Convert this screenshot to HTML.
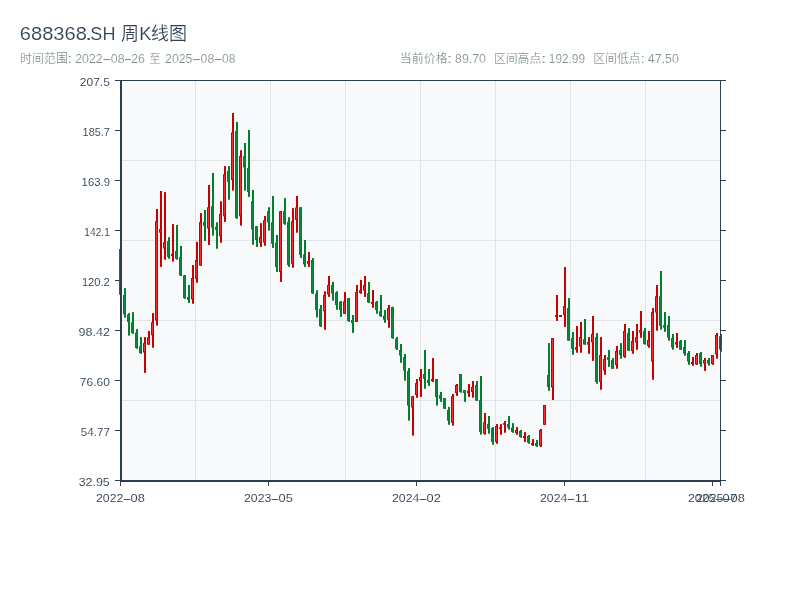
<!DOCTYPE html>
<html lang="zh-CN">
<head>
<meta charset="utf-8">
<title>688368.SH 周K线图</title>
<style>
html,body{margin:0;padding:0;background:#ffffff;}
body{width:800px;height:600px;overflow:hidden;font-family:"Liberation Sans","Noto Sans CJK SC",sans-serif;}
svg{display:block;}
</style>
</head>
<body>
<svg width="800" height="600" viewBox="0 0 800 600">
<rect x="0" y="0" width="800" height="600" fill="#ffffff"/>
<rect x="121" y="81" width="600" height="400" fill="#f8f9fa"/>
<g shape-rendering="crispEdges"><rect x="195" y="81" width="1" height="399" fill="#e1e4e8"/><rect x="270" y="81" width="1" height="399" fill="#e1e4e8"/><rect x="345" y="81" width="1" height="399" fill="#e1e4e8"/><rect x="420" y="81" width="1" height="399" fill="#e1e4e8"/><rect x="495" y="81" width="1" height="399" fill="#e1e4e8"/><rect x="570" y="81" width="1" height="399" fill="#e1e4e8"/><rect x="645" y="81" width="1" height="399" fill="#e1e4e8"/><rect x="122" y="160" width="598" height="1" fill="#e1e4e8"/><rect x="122" y="240" width="598" height="1" fill="#e1e4e8"/><rect x="122" y="320" width="598" height="1" fill="#e1e4e8"/><rect x="122" y="400" width="598" height="1" fill="#e1e4e8"/></g>
<defs><clipPath id="cp"><rect x="119" y="80" width="603" height="402"/></clipPath></defs>
<g clip-path="url(#cp)">
<rect x="120" y="249" width="2" height="45.75" fill="#007f2c"/>
<rect x="119" y="249" width="3" height="45.75" fill="#007f2c"/>
<rect x="120" y="250" width="1" height="43.75" fill="#058a35"/>
<rect x="124" y="288.1" width="2" height="29.65" fill="#007f2c"/>
<rect x="123" y="295" width="3" height="19.4" fill="#007f2c"/>
<rect x="124" y="296" width="1" height="17.4" fill="#058a35"/>
<rect x="128" y="313.1" width="2" height="22.5" fill="#007f2c"/>
<rect x="127" y="314.4" width="3" height="7.5" fill="#007f2c"/>
<rect x="128" y="315.4" width="1" height="5.5" fill="#058a35"/>
<rect x="132" y="312.1" width="2" height="21.65" fill="#007f2c"/>
<rect x="131" y="322.25" width="3" height="10.85" fill="#007f2c"/>
<rect x="132" y="323.25" width="1" height="8.85" fill="#058a35"/>
<rect x="136" y="329.1" width="2" height="19.65" fill="#007f2c"/>
<rect x="135" y="332.5" width="3" height="15.6" fill="#007f2c"/>
<rect x="136" y="333.5" width="1" height="13.6" fill="#058a35"/>
<rect x="140" y="337.1" width="2" height="16.65" fill="#007f2c"/>
<rect x="139" y="346.25" width="3" height="6.85" fill="#007f2c"/>
<rect x="140" y="347.25" width="1" height="4.85" fill="#058a35"/>
<rect x="144" y="337.1" width="2" height="35.8" fill="#c80000"/>
<rect x="143" y="343.1" width="3" height="9.4" fill="#c80000"/>
<rect x="144" y="344.1" width="1" height="7.4" fill="#ff2a2a"/>
<rect x="148" y="331" width="2" height="13.6" fill="#c80000"/>
<rect x="147" y="337.25" width="3" height="7.35" fill="#c80000"/>
<rect x="148" y="338.25" width="1" height="5.35" fill="#ff2a2a"/>
<rect x="152" y="313.1" width="2" height="34.65" fill="#c80000"/>
<rect x="151" y="322.25" width="3" height="13" fill="#c80000"/>
<rect x="152" y="323.25" width="1" height="11" fill="#ff2a2a"/>
<rect x="156" y="209" width="2" height="116.6" fill="#c80000"/>
<rect x="155" y="221.25" width="3" height="99.35" fill="#c80000"/>
<rect x="156" y="222.25" width="1" height="97.35" fill="#ff2a2a"/>
<rect x="160" y="191" width="2" height="75.9" fill="#c80000"/>
<rect x="159" y="229" width="3" height="3.75" fill="#c80000"/>
<rect x="160" y="230" width="1" height="1.75" fill="#ff2a2a"/>
<rect x="164" y="192.1" width="2" height="67.65" fill="#c80000"/>
<rect x="163" y="242.25" width="3" height="6.25" fill="#c80000"/>
<rect x="164" y="243.25" width="1" height="4.25" fill="#ff2a2a"/>
<rect x="168" y="237.25" width="2" height="21.5" fill="#007f2c"/>
<rect x="167" y="241" width="3" height="15.9" fill="#007f2c"/>
<rect x="168" y="242" width="1" height="13.9" fill="#058a35"/>
<rect x="172" y="224.1" width="2" height="37.5" fill="#c80000"/>
<rect x="171" y="254.1" width="3" height="1.9" fill="#c80000"/>
<rect x="176" y="225" width="2" height="34.75" fill="#007f2c"/>
<rect x="175" y="251" width="3" height="7.75" fill="#007f2c"/>
<rect x="176" y="252" width="1" height="5.75" fill="#058a35"/>
<rect x="180" y="246" width="2" height="30" fill="#007f2c"/>
<rect x="179" y="256.9" width="3" height="18.5" fill="#007f2c"/>
<rect x="180" y="257.9" width="1" height="16.5" fill="#058a35"/>
<rect x="184" y="275" width="2" height="23.75" fill="#007f2c"/>
<rect x="183" y="275.25" width="3" height="22.85" fill="#007f2c"/>
<rect x="184" y="276.25" width="1" height="20.85" fill="#058a35"/>
<rect x="188" y="285" width="2" height="17.9" fill="#007f2c"/>
<rect x="187" y="296.9" width="3" height="3.1" fill="#007f2c"/>
<rect x="188" y="297.9" width="1" height="1.1" fill="#058a35"/>
<rect x="192" y="265" width="2" height="38.75" fill="#c80000"/>
<rect x="191" y="278.1" width="3" height="21.3" fill="#c80000"/>
<rect x="192" y="279.1" width="1" height="19.3" fill="#ff2a2a"/>
<rect x="196" y="241.9" width="2" height="40.85" fill="#c80000"/>
<rect x="195" y="260" width="3" height="18.75" fill="#c80000"/>
<rect x="196" y="261" width="1" height="16.75" fill="#ff2a2a"/>
<rect x="200" y="213.1" width="2" height="52.5" fill="#c80000"/>
<rect x="199" y="222.1" width="3" height="43.5" fill="#c80000"/>
<rect x="200" y="223.1" width="1" height="41.5" fill="#ff2a2a"/>
<rect x="204" y="210" width="2" height="30.9" fill="#007f2c"/>
<rect x="203" y="222.1" width="3" height="3.5" fill="#007f2c"/>
<rect x="204" y="223.1" width="1" height="1.5" fill="#058a35"/>
<rect x="208" y="185" width="2" height="60" fill="#c80000"/>
<rect x="207" y="207.25" width="3" height="21.25" fill="#c80000"/>
<rect x="208" y="208.25" width="1" height="19.25" fill="#ff2a2a"/>
<rect x="212" y="173" width="2" height="62.6" fill="#007f2c"/>
<rect x="211" y="206.25" width="3" height="21.25" fill="#007f2c"/>
<rect x="212" y="207.25" width="1" height="19.25" fill="#058a35"/>
<rect x="216" y="222.25" width="2" height="26.5" fill="#007f2c"/>
<rect x="215" y="226.9" width="3" height="3.1" fill="#007f2c"/>
<rect x="216" y="227.9" width="1" height="1.1" fill="#058a35"/>
<rect x="220" y="201.25" width="2" height="41.5" fill="#c80000"/>
<rect x="219" y="214" width="3" height="22.25" fill="#c80000"/>
<rect x="220" y="215" width="1" height="20.25" fill="#ff2a2a"/>
<rect x="224" y="166.1" width="2" height="55.8" fill="#c80000"/>
<rect x="223" y="174.25" width="3" height="42" fill="#c80000"/>
<rect x="224" y="175.25" width="1" height="40" fill="#ff2a2a"/>
<rect x="228" y="166.1" width="2" height="33.65" fill="#007f2c"/>
<rect x="227" y="171.1" width="3" height="10.8" fill="#007f2c"/>
<rect x="228" y="172.1" width="1" height="8.8" fill="#058a35"/>
<rect x="232" y="113" width="2" height="77.6" fill="#c80000"/>
<rect x="231" y="132.4" width="3" height="47.6" fill="#c80000"/>
<rect x="232" y="133.4" width="1" height="45.6" fill="#ff2a2a"/>
<rect x="236" y="122" width="2" height="96.75" fill="#007f2c"/>
<rect x="235" y="131.1" width="3" height="87" fill="#007f2c"/>
<rect x="236" y="132.1" width="1" height="85" fill="#058a35"/>
<rect x="240" y="150.25" width="2" height="75.35" fill="#c80000"/>
<rect x="239" y="156.1" width="3" height="60.15" fill="#c80000"/>
<rect x="240" y="157.1" width="1" height="58.15" fill="#ff2a2a"/>
<rect x="244" y="143" width="2" height="47.6" fill="#007f2c"/>
<rect x="243" y="156.1" width="3" height="11.3" fill="#007f2c"/>
<rect x="244" y="157.1" width="1" height="9.3" fill="#058a35"/>
<rect x="248" y="129.9" width="2" height="67" fill="#007f2c"/>
<rect x="247" y="168" width="3" height="23.9" fill="#007f2c"/>
<rect x="248" y="169" width="1" height="21.9" fill="#058a35"/>
<rect x="252" y="190" width="2" height="54.75" fill="#007f2c"/>
<rect x="251" y="201.25" width="3" height="28.15" fill="#007f2c"/>
<rect x="252" y="202.25" width="1" height="26.15" fill="#058a35"/>
<rect x="256" y="226" width="2" height="20.9" fill="#007f2c"/>
<rect x="255" y="226.25" width="3" height="13.75" fill="#007f2c"/>
<rect x="256" y="227.25" width="1" height="11.75" fill="#058a35"/>
<rect x="260" y="223.1" width="2" height="23.8" fill="#c80000"/>
<rect x="259" y="236.9" width="3" height="6.2" fill="#c80000"/>
<rect x="260" y="237.9" width="1" height="4.2" fill="#ff2a2a"/>
<rect x="264" y="216" width="2" height="29.75" fill="#c80000"/>
<rect x="263" y="220.25" width="3" height="22.25" fill="#c80000"/>
<rect x="264" y="221.25" width="1" height="20.25" fill="#ff2a2a"/>
<rect x="268" y="207.25" width="2" height="23.35" fill="#007f2c"/>
<rect x="267" y="211.25" width="3" height="11.25" fill="#007f2c"/>
<rect x="268" y="212.25" width="1" height="9.25" fill="#058a35"/>
<rect x="272" y="196" width="2" height="51.9" fill="#007f2c"/>
<rect x="271" y="222.25" width="3" height="21.5" fill="#007f2c"/>
<rect x="272" y="223.25" width="1" height="19.5" fill="#058a35"/>
<rect x="276" y="235" width="2" height="36.9" fill="#007f2c"/>
<rect x="275" y="242.5" width="3" height="24.4" fill="#007f2c"/>
<rect x="276" y="243.5" width="1" height="22.4" fill="#058a35"/>
<rect x="280" y="211" width="2" height="70.9" fill="#c80000"/>
<rect x="279" y="211.25" width="3" height="60.65" fill="#c80000"/>
<rect x="280" y="212.25" width="1" height="58.65" fill="#ff2a2a"/>
<rect x="284" y="198.1" width="2" height="26.65" fill="#007f2c"/>
<rect x="283" y="211.25" width="3" height="12.5" fill="#007f2c"/>
<rect x="284" y="212.25" width="1" height="10.5" fill="#058a35"/>
<rect x="288" y="217.25" width="2" height="49.65" fill="#007f2c"/>
<rect x="287" y="221.9" width="3" height="43.1" fill="#007f2c"/>
<rect x="288" y="222.9" width="1" height="41.1" fill="#058a35"/>
<rect x="292" y="208.1" width="2" height="59.65" fill="#c80000"/>
<rect x="291" y="221.25" width="3" height="42.5" fill="#c80000"/>
<rect x="292" y="222.25" width="1" height="40.5" fill="#ff2a2a"/>
<rect x="296" y="196" width="2" height="36.75" fill="#c80000"/>
<rect x="295" y="207.5" width="3" height="12.5" fill="#c80000"/>
<rect x="296" y="208.5" width="1" height="10.5" fill="#ff2a2a"/>
<rect x="300" y="207.25" width="2" height="50.65" fill="#007f2c"/>
<rect x="299" y="207.25" width="3" height="47.75" fill="#007f2c"/>
<rect x="300" y="208.25" width="1" height="45.75" fill="#058a35"/>
<rect x="304" y="240" width="2" height="26.9" fill="#007f2c"/>
<rect x="303" y="254.4" width="3" height="10" fill="#007f2c"/>
<rect x="304" y="255.4" width="1" height="8" fill="#058a35"/>
<rect x="308" y="252.1" width="2" height="14.8" fill="#c80000"/>
<rect x="307" y="261" width="3" height="2.75" fill="#c80000"/>
<rect x="308" y="262" width="1" height="0.75" fill="#ff2a2a"/>
<rect x="312" y="258.1" width="2" height="35.65" fill="#007f2c"/>
<rect x="311" y="260" width="3" height="33.5" fill="#007f2c"/>
<rect x="312" y="261" width="1" height="31.5" fill="#058a35"/>
<rect x="316" y="290.25" width="2" height="27.25" fill="#007f2c"/>
<rect x="315" y="293.75" width="3" height="16.25" fill="#007f2c"/>
<rect x="316" y="294.75" width="1" height="14.25" fill="#058a35"/>
<rect x="320" y="305" width="2" height="21.9" fill="#007f2c"/>
<rect x="319" y="308.75" width="3" height="17.5" fill="#007f2c"/>
<rect x="320" y="309.75" width="1" height="15.5" fill="#058a35"/>
<rect x="324" y="291.25" width="2" height="38.5" fill="#c80000"/>
<rect x="323" y="295" width="3" height="16.25" fill="#c80000"/>
<rect x="324" y="296" width="1" height="14.25" fill="#ff2a2a"/>
<rect x="328" y="276" width="2" height="20.9" fill="#c80000"/>
<rect x="327" y="285" width="3" height="9.4" fill="#c80000"/>
<rect x="328" y="286" width="1" height="7.4" fill="#ff2a2a"/>
<rect x="332" y="281.9" width="2" height="18.7" fill="#007f2c"/>
<rect x="331" y="285" width="3" height="8.5" fill="#007f2c"/>
<rect x="332" y="286" width="1" height="6.5" fill="#058a35"/>
<rect x="336" y="291.25" width="2" height="18.5" fill="#007f2c"/>
<rect x="335" y="292.5" width="3" height="12.5" fill="#007f2c"/>
<rect x="336" y="293.5" width="1" height="10.5" fill="#058a35"/>
<rect x="340" y="301" width="2" height="15.9" fill="#007f2c"/>
<rect x="339" y="301.9" width="3" height="8.1" fill="#007f2c"/>
<rect x="340" y="302.9" width="1" height="6.1" fill="#058a35"/>
<rect x="344" y="292.1" width="2" height="21.65" fill="#c80000"/>
<rect x="343" y="301.25" width="3" height="12.5" fill="#c80000"/>
<rect x="344" y="302.25" width="1" height="10.5" fill="#ff2a2a"/>
<rect x="348" y="298.1" width="2" height="23.8" fill="#007f2c"/>
<rect x="347" y="298.1" width="3" height="22.8" fill="#007f2c"/>
<rect x="348" y="299.1" width="1" height="20.8" fill="#058a35"/>
<rect x="352" y="315" width="2" height="17.9" fill="#007f2c"/>
<rect x="351" y="320" width="3" height="3.1" fill="#007f2c"/>
<rect x="352" y="321" width="1" height="1.1" fill="#058a35"/>
<rect x="356" y="285" width="2" height="36.9" fill="#c80000"/>
<rect x="355" y="292.1" width="3" height="29.8" fill="#c80000"/>
<rect x="356" y="293.1" width="1" height="27.8" fill="#ff2a2a"/>
<rect x="360" y="280" width="2" height="13.75" fill="#c80000"/>
<rect x="359" y="290.25" width="3" height="2.85" fill="#c80000"/>
<rect x="360" y="291.25" width="1" height="0.85" fill="#ff2a2a"/>
<rect x="364" y="276" width="2" height="20.9" fill="#c80000"/>
<rect x="363" y="285" width="3" height="5.6" fill="#c80000"/>
<rect x="364" y="286" width="1" height="3.6" fill="#ff2a2a"/>
<rect x="368" y="281.9" width="2" height="21" fill="#007f2c"/>
<rect x="367" y="293.1" width="3" height="9.4" fill="#007f2c"/>
<rect x="368" y="294.1" width="1" height="7.4" fill="#058a35"/>
<rect x="372" y="290" width="2" height="17.75" fill="#c80000"/>
<rect x="371" y="301.9" width="3" height="1.85" fill="#c80000"/>
<rect x="376" y="301" width="2" height="12.75" fill="#007f2c"/>
<rect x="375" y="301.9" width="3" height="8.1" fill="#007f2c"/>
<rect x="376" y="302.9" width="1" height="6.1" fill="#058a35"/>
<rect x="380" y="295" width="2" height="21.9" fill="#007f2c"/>
<rect x="379" y="311.25" width="3" height="4.65" fill="#007f2c"/>
<rect x="380" y="312.25" width="1" height="2.65" fill="#058a35"/>
<rect x="384" y="310" width="2" height="12.75" fill="#007f2c"/>
<rect x="383" y="315.6" width="3" height="4.15" fill="#007f2c"/>
<rect x="384" y="316.6" width="1" height="2.15" fill="#058a35"/>
<rect x="388" y="305" width="2" height="22.75" fill="#c80000"/>
<rect x="387" y="308.1" width="3" height="11.65" fill="#c80000"/>
<rect x="388" y="309.1" width="1" height="9.65" fill="#ff2a2a"/>
<rect x="392" y="306.9" width="2" height="31.85" fill="#007f2c"/>
<rect x="391" y="306.9" width="3" height="31.2" fill="#007f2c"/>
<rect x="392" y="307.9" width="1" height="29.2" fill="#058a35"/>
<rect x="396" y="336.9" width="2" height="13.1" fill="#007f2c"/>
<rect x="395" y="338.75" width="3" height="10" fill="#007f2c"/>
<rect x="396" y="339.75" width="1" height="8" fill="#058a35"/>
<rect x="400" y="344" width="2" height="18.8" fill="#007f2c"/>
<rect x="399" y="350" width="3" height="5.6" fill="#007f2c"/>
<rect x="400" y="351" width="1" height="3.6" fill="#058a35"/>
<rect x="404" y="354" width="2" height="26.6" fill="#007f2c"/>
<rect x="403" y="357" width="3" height="13.6" fill="#007f2c"/>
<rect x="404" y="358" width="1" height="11.6" fill="#058a35"/>
<rect x="408" y="368.1" width="2" height="52.5" fill="#007f2c"/>
<rect x="407" y="371" width="3" height="34.6" fill="#007f2c"/>
<rect x="408" y="372" width="1" height="32.6" fill="#058a35"/>
<rect x="412" y="396.25" width="2" height="39.35" fill="#c80000"/>
<rect x="411" y="396.25" width="3" height="11.25" fill="#c80000"/>
<rect x="412" y="397.25" width="1" height="9.25" fill="#ff2a2a"/>
<rect x="416" y="379" width="2" height="18.75" fill="#c80000"/>
<rect x="415" y="383.1" width="3" height="11.9" fill="#c80000"/>
<rect x="416" y="384.1" width="1" height="9.9" fill="#ff2a2a"/>
<rect x="420" y="369" width="2" height="27.9" fill="#c80000"/>
<rect x="419" y="377.1" width="3" height="4.15" fill="#c80000"/>
<rect x="420" y="378.1" width="1" height="2.15" fill="#ff2a2a"/>
<rect x="424" y="350" width="2" height="38.75" fill="#007f2c"/>
<rect x="423" y="374" width="3" height="4.75" fill="#007f2c"/>
<rect x="424" y="375" width="1" height="2.75" fill="#058a35"/>
<rect x="428" y="369" width="2" height="16.9" fill="#007f2c"/>
<rect x="427" y="380" width="3" height="3.1" fill="#007f2c"/>
<rect x="428" y="381" width="1" height="1.1" fill="#058a35"/>
<rect x="432" y="358.1" width="2" height="23.8" fill="#c80000"/>
<rect x="431" y="379" width="3" height="2.25" fill="#c80000"/>
<rect x="432" y="380" width="1" height="0.25" fill="#ff2a2a"/>
<rect x="436" y="379" width="2" height="26.6" fill="#007f2c"/>
<rect x="435" y="379" width="3" height="17.9" fill="#007f2c"/>
<rect x="436" y="380" width="1" height="15.9" fill="#058a35"/>
<rect x="440" y="391.9" width="2" height="10" fill="#007f2c"/>
<rect x="439" y="395" width="3" height="3.75" fill="#007f2c"/>
<rect x="440" y="396" width="1" height="1.75" fill="#058a35"/>
<rect x="444" y="398.1" width="2" height="10.65" fill="#007f2c"/>
<rect x="443" y="398.1" width="3" height="10.65" fill="#007f2c"/>
<rect x="444" y="399.1" width="1" height="8.65" fill="#058a35"/>
<rect x="448" y="406.9" width="2" height="17.85" fill="#007f2c"/>
<rect x="447" y="410" width="3" height="10.6" fill="#007f2c"/>
<rect x="448" y="411" width="1" height="8.6" fill="#058a35"/>
<rect x="452" y="394" width="2" height="31.6" fill="#c80000"/>
<rect x="451" y="396.1" width="3" height="26.65" fill="#c80000"/>
<rect x="452" y="397.1" width="1" height="24.65" fill="#ff2a2a"/>
<rect x="456" y="384" width="2" height="11.9" fill="#c80000"/>
<rect x="455" y="385" width="3" height="8.1" fill="#c80000"/>
<rect x="456" y="386" width="1" height="6.1" fill="#ff2a2a"/>
<rect x="460" y="374" width="2" height="18.75" fill="#007f2c"/>
<rect x="459" y="374" width="3" height="17.9" fill="#007f2c"/>
<rect x="460" y="375" width="1" height="15.9" fill="#058a35"/>
<rect x="464" y="390" width="2" height="11.9" fill="#007f2c"/>
<rect x="463" y="390" width="3" height="3.1" fill="#007f2c"/>
<rect x="464" y="391" width="1" height="1.1" fill="#058a35"/>
<rect x="468" y="384" width="2" height="12.9" fill="#c80000"/>
<rect x="467" y="390.6" width="3" height="2.5" fill="#c80000"/>
<rect x="468" y="391.6" width="1" height="0.5" fill="#ff2a2a"/>
<rect x="472" y="381" width="2" height="16.75" fill="#c80000"/>
<rect x="471" y="386.9" width="3" height="5" fill="#c80000"/>
<rect x="472" y="387.9" width="1" height="3" fill="#ff2a2a"/>
<rect x="476" y="381" width="2" height="19.9" fill="#007f2c"/>
<rect x="475" y="385" width="3" height="15.6" fill="#007f2c"/>
<rect x="476" y="386" width="1" height="13.6" fill="#058a35"/>
<rect x="480" y="376" width="2" height="58.6" fill="#007f2c"/>
<rect x="479" y="400" width="3" height="31.9" fill="#007f2c"/>
<rect x="480" y="401" width="1" height="29.9" fill="#058a35"/>
<rect x="484" y="413" width="2" height="21.6" fill="#c80000"/>
<rect x="483" y="422.25" width="3" height="11.5" fill="#c80000"/>
<rect x="484" y="423.25" width="1" height="9.5" fill="#ff2a2a"/>
<rect x="488" y="416" width="2" height="17.75" fill="#007f2c"/>
<rect x="487" y="424" width="3" height="4.75" fill="#007f2c"/>
<rect x="488" y="425" width="1" height="2.75" fill="#058a35"/>
<rect x="492" y="427.1" width="2" height="17.65" fill="#007f2c"/>
<rect x="491" y="428.1" width="3" height="13.8" fill="#007f2c"/>
<rect x="492" y="429.1" width="1" height="11.8" fill="#058a35"/>
<rect x="496" y="424.1" width="2" height="19.65" fill="#c80000"/>
<rect x="495" y="426" width="3" height="15.9" fill="#c80000"/>
<rect x="496" y="427" width="1" height="13.9" fill="#ff2a2a"/>
<rect x="500" y="424.1" width="2" height="10.65" fill="#c80000"/>
<rect x="499" y="427.25" width="3" height="1.75" fill="#c80000"/>
<rect x="504" y="421" width="2" height="11.75" fill="#c80000"/>
<rect x="503" y="423.1" width="3" height="1.65" fill="#c80000"/>
<rect x="508" y="416" width="2" height="13.6" fill="#007f2c"/>
<rect x="507" y="424.1" width="3" height="3.4" fill="#007f2c"/>
<rect x="508" y="425.1" width="1" height="1.4" fill="#058a35"/>
<rect x="512" y="423.1" width="2" height="9.65" fill="#007f2c"/>
<rect x="511" y="427.5" width="3" height="4.4" fill="#007f2c"/>
<rect x="512" y="428.5" width="1" height="2.4" fill="#058a35"/>
<rect x="516" y="427.1" width="2" height="7.65" fill="#c80000"/>
<rect x="515" y="430" width="3" height="3.1" fill="#c80000"/>
<rect x="516" y="431" width="1" height="1.1" fill="#ff2a2a"/>
<rect x="520" y="430" width="2" height="7.75" fill="#007f2c"/>
<rect x="519" y="431" width="3" height="5.9" fill="#007f2c"/>
<rect x="520" y="432" width="1" height="3.9" fill="#058a35"/>
<rect x="524" y="432.1" width="2" height="9.8" fill="#c80000"/>
<rect x="523" y="436" width="3" height="2.1" fill="#c80000"/>
<rect x="528" y="435" width="2" height="8.75" fill="#007f2c"/>
<rect x="527" y="436" width="3" height="6.75" fill="#007f2c"/>
<rect x="528" y="437" width="1" height="4.75" fill="#058a35"/>
<rect x="532" y="439.1" width="2" height="6.8" fill="#c80000"/>
<rect x="531" y="443.1" width="3" height="1.9" fill="#c80000"/>
<rect x="536" y="440" width="2" height="6.9" fill="#007f2c"/>
<rect x="535" y="443.1" width="3" height="2.8" fill="#007f2c"/>
<rect x="536" y="444.1" width="1" height="0.8" fill="#058a35"/>
<rect x="540" y="429" width="2" height="17.9" fill="#c80000"/>
<rect x="539" y="430" width="3" height="15.9" fill="#c80000"/>
<rect x="540" y="431" width="1" height="13.9" fill="#ff2a2a"/>
<rect x="544" y="405" width="2" height="19.75" fill="#c80000"/>
<rect x="543" y="405" width="3" height="19.75" fill="#c80000"/>
<rect x="544" y="406" width="1" height="17.75" fill="#ff2a2a"/>
<rect x="548" y="343.1" width="2" height="47.7" fill="#007f2c"/>
<rect x="547" y="375" width="3" height="11.9" fill="#007f2c"/>
<rect x="548" y="376" width="1" height="9.9" fill="#058a35"/>
<rect x="552" y="338.1" width="2" height="61.9" fill="#c80000"/>
<rect x="551" y="338.1" width="3" height="49.4" fill="#c80000"/>
<rect x="552" y="339.1" width="1" height="47.4" fill="#ff2a2a"/>
<rect x="556" y="295" width="2" height="25.9" fill="#c80000"/>
<rect x="555" y="315" width="3" height="1.9" fill="#c80000"/>
<rect x="560" y="315" width="2" height="1.9" fill="#c80000"/>
<rect x="559" y="315" width="3" height="1.9" fill="#c80000"/>
<rect x="564" y="267.1" width="2" height="59.8" fill="#c80000"/>
<rect x="563" y="306" width="3" height="9" fill="#c80000"/>
<rect x="564" y="307" width="1" height="7" fill="#ff2a2a"/>
<rect x="568" y="298.1" width="2" height="42.5" fill="#007f2c"/>
<rect x="567" y="308.1" width="3" height="32.5" fill="#007f2c"/>
<rect x="568" y="309.1" width="1" height="30.5" fill="#058a35"/>
<rect x="572" y="332" width="2" height="22.75" fill="#007f2c"/>
<rect x="571" y="338.1" width="3" height="10.65" fill="#007f2c"/>
<rect x="572" y="339.1" width="1" height="8.65" fill="#058a35"/>
<rect x="576" y="326" width="2" height="26.75" fill="#c80000"/>
<rect x="575" y="347.25" width="3" height="2.5" fill="#c80000"/>
<rect x="576" y="348.25" width="1" height="0.5" fill="#ff2a2a"/>
<rect x="580" y="322" width="2" height="30.75" fill="#c80000"/>
<rect x="579" y="337.1" width="3" height="9.4" fill="#c80000"/>
<rect x="580" y="338.1" width="1" height="7.4" fill="#ff2a2a"/>
<rect x="584" y="319" width="2" height="25.6" fill="#007f2c"/>
<rect x="583" y="339.1" width="3" height="5.5" fill="#007f2c"/>
<rect x="584" y="340.1" width="1" height="3.5" fill="#058a35"/>
<rect x="588" y="337.1" width="2" height="16.65" fill="#c80000"/>
<rect x="587" y="342.1" width="3" height="2.5" fill="#c80000"/>
<rect x="588" y="343.1" width="1" height="0.5" fill="#ff2a2a"/>
<rect x="592" y="316" width="2" height="44.9" fill="#c80000"/>
<rect x="591" y="334" width="3" height="8.5" fill="#c80000"/>
<rect x="592" y="335" width="1" height="6.5" fill="#ff2a2a"/>
<rect x="596" y="333.1" width="2" height="50.65" fill="#007f2c"/>
<rect x="595" y="337.1" width="3" height="44.8" fill="#007f2c"/>
<rect x="596" y="338.1" width="1" height="42.8" fill="#058a35"/>
<rect x="600" y="337.1" width="2" height="52.65" fill="#c80000"/>
<rect x="599" y="355" width="3" height="26.9" fill="#c80000"/>
<rect x="600" y="356" width="1" height="24.9" fill="#ff2a2a"/>
<rect x="604" y="355" width="2" height="19.75" fill="#c80000"/>
<rect x="603" y="359" width="3" height="11.6" fill="#c80000"/>
<rect x="604" y="360" width="1" height="9.6" fill="#ff2a2a"/>
<rect x="608" y="350" width="2" height="16.9" fill="#007f2c"/>
<rect x="607" y="357.1" width="3" height="2.65" fill="#007f2c"/>
<rect x="608" y="358.1" width="1" height="0.65" fill="#058a35"/>
<rect x="612" y="358.1" width="2" height="10.65" fill="#007f2c"/>
<rect x="611" y="360" width="3" height="8.75" fill="#007f2c"/>
<rect x="612" y="361" width="1" height="6.75" fill="#058a35"/>
<rect x="616" y="346" width="2" height="22.75" fill="#c80000"/>
<rect x="615" y="351" width="3" height="14" fill="#c80000"/>
<rect x="616" y="352" width="1" height="12" fill="#ff2a2a"/>
<rect x="620" y="343.1" width="2" height="15.65" fill="#007f2c"/>
<rect x="619" y="350" width="3" height="5" fill="#007f2c"/>
<rect x="620" y="351" width="1" height="3" fill="#058a35"/>
<rect x="624" y="324" width="2" height="33.75" fill="#c80000"/>
<rect x="623" y="331" width="3" height="25.9" fill="#c80000"/>
<rect x="624" y="332" width="1" height="23.9" fill="#ff2a2a"/>
<rect x="628" y="328.1" width="2" height="22.5" fill="#007f2c"/>
<rect x="627" y="333.1" width="3" height="17.5" fill="#007f2c"/>
<rect x="628" y="334.1" width="1" height="15.5" fill="#058a35"/>
<rect x="632" y="331" width="2" height="22.75" fill="#c80000"/>
<rect x="631" y="341" width="3" height="10" fill="#c80000"/>
<rect x="632" y="342" width="1" height="8" fill="#ff2a2a"/>
<rect x="636" y="324" width="2" height="25.75" fill="#c80000"/>
<rect x="635" y="337.1" width="3" height="5.4" fill="#c80000"/>
<rect x="636" y="338.1" width="1" height="3.4" fill="#ff2a2a"/>
<rect x="640" y="311" width="2" height="26.75" fill="#c80000"/>
<rect x="639" y="330" width="3" height="2.75" fill="#c80000"/>
<rect x="640" y="331" width="1" height="0.75" fill="#ff2a2a"/>
<rect x="644" y="328.1" width="2" height="16.5" fill="#007f2c"/>
<rect x="643" y="331" width="3" height="13" fill="#007f2c"/>
<rect x="644" y="332" width="1" height="11" fill="#058a35"/>
<rect x="648" y="331" width="2" height="16.75" fill="#c80000"/>
<rect x="647" y="340" width="3" height="6" fill="#c80000"/>
<rect x="648" y="341" width="1" height="4" fill="#ff2a2a"/>
<rect x="652" y="308.1" width="2" height="71.65" fill="#c80000"/>
<rect x="651" y="312.1" width="3" height="49.4" fill="#c80000"/>
<rect x="652" y="313.1" width="1" height="47.4" fill="#ff2a2a"/>
<rect x="656" y="285" width="2" height="45.7" fill="#c80000"/>
<rect x="655" y="296.25" width="3" height="16.25" fill="#c80000"/>
<rect x="656" y="297.25" width="1" height="14.25" fill="#ff2a2a"/>
<rect x="660" y="271" width="2" height="58.6" fill="#007f2c"/>
<rect x="659" y="296.25" width="3" height="29.45" fill="#007f2c"/>
<rect x="660" y="297.25" width="1" height="27.45" fill="#058a35"/>
<rect x="664" y="312" width="2" height="19.8" fill="#007f2c"/>
<rect x="663" y="325" width="3" height="2.7" fill="#007f2c"/>
<rect x="664" y="326" width="1" height="0.7" fill="#058a35"/>
<rect x="668" y="316" width="2" height="24.7" fill="#007f2c"/>
<rect x="667" y="325" width="3" height="12.5" fill="#007f2c"/>
<rect x="668" y="326" width="1" height="10.5" fill="#058a35"/>
<rect x="672" y="334" width="2" height="15.7" fill="#007f2c"/>
<rect x="671" y="338" width="3" height="9.5" fill="#007f2c"/>
<rect x="672" y="339" width="1" height="7.5" fill="#058a35"/>
<rect x="676" y="333" width="2" height="14.8" fill="#c80000"/>
<rect x="675" y="342" width="3" height="2.5" fill="#c80000"/>
<rect x="676" y="343" width="1" height="0.5" fill="#ff2a2a"/>
<rect x="680" y="340" width="2" height="9.7" fill="#007f2c"/>
<rect x="679" y="341" width="3" height="8.7" fill="#007f2c"/>
<rect x="680" y="342" width="1" height="6.7" fill="#058a35"/>
<rect x="684" y="340" width="2" height="15.7" fill="#007f2c"/>
<rect x="683" y="347" width="3" height="6.5" fill="#007f2c"/>
<rect x="684" y="348" width="1" height="4.5" fill="#058a35"/>
<rect x="688" y="351" width="2" height="13.8" fill="#007f2c"/>
<rect x="687" y="353" width="3" height="8.5" fill="#007f2c"/>
<rect x="688" y="354" width="1" height="6.5" fill="#058a35"/>
<rect x="692" y="357" width="2" height="8.7" fill="#c80000"/>
<rect x="691" y="362" width="3" height="2" fill="#c80000"/>
<rect x="696" y="353" width="2" height="11.8" fill="#c80000"/>
<rect x="695" y="355" width="3" height="9.5" fill="#c80000"/>
<rect x="696" y="356" width="1" height="7.5" fill="#ff2a2a"/>
<rect x="700" y="352" width="2" height="14.7" fill="#007f2c"/>
<rect x="699" y="353.2" width="3" height="10.8" fill="#007f2c"/>
<rect x="700" y="354.2" width="1" height="8.8" fill="#058a35"/>
<rect x="704" y="358" width="2" height="12.9" fill="#c80000"/>
<rect x="703" y="360" width="3" height="3.5" fill="#c80000"/>
<rect x="704" y="361" width="1" height="1.5" fill="#ff2a2a"/>
<rect x="708" y="358" width="2" height="7.7" fill="#007f2c"/>
<rect x="707" y="360" width="3" height="3.5" fill="#007f2c"/>
<rect x="708" y="361" width="1" height="1.5" fill="#058a35"/>
<rect x="712" y="355" width="2" height="9.8" fill="#c80000"/>
<rect x="711" y="355" width="3" height="9" fill="#c80000"/>
<rect x="712" y="356" width="1" height="7" fill="#ff2a2a"/>
<rect x="716" y="333" width="2" height="25.7" fill="#c80000"/>
<rect x="715" y="335" width="3" height="19.5" fill="#c80000"/>
<rect x="716" y="336" width="1" height="17.5" fill="#ff2a2a"/>
<rect x="720" y="334" width="2" height="17.7" fill="#007f2c"/>
<rect x="719" y="336.2" width="3" height="13.3" fill="#007f2c"/>
<rect x="720" y="337.2" width="1" height="11.3" fill="#058a35"/>
</g>
<g shape-rendering="crispEdges"><rect x="120" y="80" width="2" height="402" fill="#2c3e50"/><rect x="120" y="480" width="601" height="2" fill="#2c3e50"/><rect x="120" y="80" width="601" height="1" fill="#2c3e50"/><rect x="720" y="80" width="1" height="402" fill="#2c3e50"/><rect x="115" y="80" width="5" height="1" fill="#2c3e50"/><rect x="721" y="80" width="5" height="1" fill="#2c3e50"/><rect x="115" y="130" width="5" height="1" fill="#2c3e50"/><rect x="721" y="130" width="5" height="1" fill="#2c3e50"/><rect x="115" y="180" width="5" height="1" fill="#2c3e50"/><rect x="721" y="180" width="5" height="1" fill="#2c3e50"/><rect x="115" y="230" width="5" height="1" fill="#2c3e50"/><rect x="721" y="230" width="5" height="1" fill="#2c3e50"/><rect x="115" y="280" width="5" height="1" fill="#2c3e50"/><rect x="721" y="280" width="5" height="1" fill="#2c3e50"/><rect x="115" y="330" width="5" height="1" fill="#2c3e50"/><rect x="721" y="330" width="5" height="1" fill="#2c3e50"/><rect x="115" y="380" width="5" height="1" fill="#2c3e50"/><rect x="721" y="380" width="5" height="1" fill="#2c3e50"/><rect x="115" y="430" width="5" height="1" fill="#2c3e50"/><rect x="721" y="430" width="5" height="1" fill="#2c3e50"/><rect x="115" y="480" width="5" height="1" fill="#2c3e50"/><rect x="721" y="480" width="5" height="1" fill="#2c3e50"/><rect x="120" y="482" width="1" height="4" fill="#2c3e50"/><rect x="268" y="482" width="1" height="4" fill="#2c3e50"/><rect x="416" y="482" width="1" height="4" fill="#2c3e50"/><rect x="564" y="482" width="1" height="4" fill="#2c3e50"/><rect x="712" y="482" width="1" height="4" fill="#2c3e50"/><rect x="720" y="482" width="1" height="4" fill="#2c3e50"/></g>
<text x="79.87" y="86.1" font-family="'Liberation Sans', 'Noto Sans CJK SC', sans-serif" font-size="11.3" fill="#2c3e50" stroke="#ffffff" stroke-width="0.08" textLength="30.00" lengthAdjust="spacingAndGlyphs">207.5</text>
<text x="82.62" y="136.1" font-family="'Liberation Sans', 'Noto Sans CJK SC', sans-serif" font-size="11.3" fill="#2c3e50" stroke="#ffffff" stroke-width="0.08" textLength="27.24" lengthAdjust="spacingAndGlyphs">185.7</text>
<text x="81.63" y="186.1" font-family="'Liberation Sans', 'Noto Sans CJK SC', sans-serif" font-size="11.3" fill="#2c3e50" stroke="#ffffff" stroke-width="0.08" textLength="28.30" lengthAdjust="spacingAndGlyphs">163.9</text>
<text x="84.37" y="236.1" font-family="'Liberation Sans', 'Noto Sans CJK SC', sans-serif" font-size="11.3" fill="#2c3e50" stroke="#ffffff" stroke-width="0.08" textLength="25.45" lengthAdjust="spacingAndGlyphs">142.1</text>
<text x="81.88" y="286.1" font-family="'Liberation Sans', 'Noto Sans CJK SC', sans-serif" font-size="11.3" fill="#2c3e50" stroke="#ffffff" stroke-width="0.08" textLength="27.93" lengthAdjust="spacingAndGlyphs">120.2</text>
<text x="78.61" y="336.1" font-family="'Liberation Sans', 'Noto Sans CJK SC', sans-serif" font-size="11.3" fill="#2c3e50" stroke="#ffffff" stroke-width="0.08" textLength="31.34" lengthAdjust="spacingAndGlyphs">98.42</text>
<text x="79.87" y="386.1" font-family="'Liberation Sans', 'Noto Sans CJK SC', sans-serif" font-size="11.3" fill="#2c3e50" stroke="#ffffff" stroke-width="0.08" textLength="29.98" lengthAdjust="spacingAndGlyphs">76.60</text>
<text x="80.74" y="436.1" font-family="'Liberation Sans', 'Noto Sans CJK SC', sans-serif" font-size="11.3" fill="#2c3e50" stroke="#ffffff" stroke-width="0.08" textLength="29.24" lengthAdjust="spacingAndGlyphs">54.77</text>
<text x="78.70" y="486.1" font-family="'Liberation Sans', 'Noto Sans CJK SC', sans-serif" font-size="11.3" fill="#2c3e50" stroke="#ffffff" stroke-width="0.08" textLength="31.04" lengthAdjust="spacingAndGlyphs">32.95</text>
<text y="502.2" font-family="'Liberation Sans', 'Noto Sans CJK SC', sans-serif" font-size="11.3" fill="#2c3e50" stroke="#ffffff" stroke-width="0.08"><tspan x="96.04" textLength="27.20" lengthAdjust="spacingAndGlyphs">2022</tspan><tspan x="122.56" textLength="9.03" lengthAdjust="spacingAndGlyphs" stroke="none">-</tspan><tspan x="130.56" textLength="14.29" lengthAdjust="spacingAndGlyphs">08</tspan></text>
<text y="502.2" font-family="'Liberation Sans', 'Noto Sans CJK SC', sans-serif" font-size="11.3" fill="#2c3e50" stroke="#ffffff" stroke-width="0.08"><tspan x="244.04" textLength="27.20" lengthAdjust="spacingAndGlyphs">2023</tspan><tspan x="270.56" textLength="9.03" lengthAdjust="spacingAndGlyphs" stroke="none">-</tspan><tspan x="278.56" textLength="14.29" lengthAdjust="spacingAndGlyphs">05</tspan></text>
<text y="502.2" font-family="'Liberation Sans', 'Noto Sans CJK SC', sans-serif" font-size="11.3" fill="#2c3e50" stroke="#ffffff" stroke-width="0.08"><tspan x="392.04" textLength="27.20" lengthAdjust="spacingAndGlyphs">2024</tspan><tspan x="418.56" textLength="9.03" lengthAdjust="spacingAndGlyphs" stroke="none">-</tspan><tspan x="426.56" textLength="14.29" lengthAdjust="spacingAndGlyphs">02</tspan></text>
<text y="502.2" font-family="'Liberation Sans', 'Noto Sans CJK SC', sans-serif" font-size="11.3" fill="#2c3e50" stroke="#ffffff" stroke-width="0.08"><tspan x="540.04" textLength="27.20" lengthAdjust="spacingAndGlyphs">2024</tspan><tspan x="566.56" textLength="9.03" lengthAdjust="spacingAndGlyphs" stroke="none">-</tspan><tspan x="574.56" textLength="14.29" lengthAdjust="spacingAndGlyphs">11</tspan></text>
<text y="502.2" font-family="'Liberation Sans', 'Noto Sans CJK SC', sans-serif" font-size="11.3" fill="#2c3e50" stroke="#ffffff" stroke-width="0.08"><tspan x="688.04" textLength="27.20" lengthAdjust="spacingAndGlyphs">2025</tspan><tspan x="714.56" textLength="9.03" lengthAdjust="spacingAndGlyphs" stroke="none">-</tspan><tspan x="722.56" textLength="14.29" lengthAdjust="spacingAndGlyphs">07</tspan></text>
<text y="502.2" font-family="'Liberation Sans', 'Noto Sans CJK SC', sans-serif" font-size="11.3" fill="#2c3e50" stroke="#ffffff" stroke-width="0.08"><tspan x="696.04" textLength="27.20" lengthAdjust="spacingAndGlyphs">2025</tspan><tspan x="722.56" textLength="9.03" lengthAdjust="spacingAndGlyphs" stroke="none">-</tspan><tspan x="730.56" textLength="14.29" lengthAdjust="spacingAndGlyphs">08</tspan></text>
<text y="40.1" font-family="'Liberation Sans', 'Noto Sans CJK SC', sans-serif" font-size="18" fill="#2c3e50" stroke="#ffffff" stroke-width="0.15"><tspan x="19.84" textLength="67.01" lengthAdjust="spacingAndGlyphs">688368</tspan><tspan x="85.55" textLength="6.22" lengthAdjust="spacingAndGlyphs" stroke="none">.</tspan><tspan x="90.38" textLength="25.06" lengthAdjust="spacingAndGlyphs">SH</tspan> <tspan x="121.05" textLength="18.02" lengthAdjust="spacingAndGlyphs">周</tspan><tspan x="139.18" textLength="12.18" lengthAdjust="spacingAndGlyphs">K</tspan><tspan x="150.95" textLength="36.15" lengthAdjust="spacingAndGlyphs">线图</tspan></text>
<text y="63.2" font-family="'Liberation Sans', 'Noto Sans CJK SC', sans-serif" font-size="12" fill="#7f8c8d" stroke="#ffffff" stroke-width="0.15"><tspan x="20.08" textLength="47.93" lengthAdjust="spacingAndGlyphs">时间范围</tspan><tspan x="67.40" textLength="4.32" lengthAdjust="spacingAndGlyphs" stroke="none">:</tspan> <tspan x="75.24" textLength="27.48" lengthAdjust="spacingAndGlyphs">2022</tspan><tspan x="102.35" textLength="9.39" lengthAdjust="spacingAndGlyphs" stroke="none">-</tspan><tspan x="110.84" textLength="13.71" lengthAdjust="spacingAndGlyphs">08</tspan><tspan x="123.80" textLength="8.45" lengthAdjust="spacingAndGlyphs" stroke="none">-</tspan><tspan x="131.28" textLength="13.70" lengthAdjust="spacingAndGlyphs">26</tspan> <tspan x="149.18" textLength="11.49" lengthAdjust="spacingAndGlyphs">至</tspan> <tspan x="165.07" textLength="27.37" lengthAdjust="spacingAndGlyphs">2025</tspan><tspan x="191.77" textLength="9.41" lengthAdjust="spacingAndGlyphs" stroke="none">-</tspan><tspan x="200.61" textLength="13.57" lengthAdjust="spacingAndGlyphs">08</tspan><tspan x="213.72" textLength="8.88" lengthAdjust="spacingAndGlyphs" stroke="none">-</tspan><tspan x="222.08" textLength="13.51" lengthAdjust="spacingAndGlyphs">08</tspan></text>
<text y="63.2" font-family="'Liberation Sans', 'Noto Sans CJK SC', sans-serif" font-size="12" fill="#7f8c8d" stroke="#ffffff" stroke-width="0.15"><tspan x="399.79" textLength="47.82" lengthAdjust="spacingAndGlyphs">当前价格</tspan><tspan x="446.91" textLength="5.02" lengthAdjust="spacingAndGlyphs" stroke="none">:</tspan> <tspan x="455.08" textLength="30.74" lengthAdjust="spacingAndGlyphs">89.70</tspan>   <tspan x="493.88" textLength="47.43" lengthAdjust="spacingAndGlyphs">区间高点</tspan><tspan x="541.00" textLength="5.32" lengthAdjust="spacingAndGlyphs" stroke="none">:</tspan> <tspan x="548.84" textLength="36.15" lengthAdjust="spacingAndGlyphs">192.99</tspan>   <tspan x="593.15" textLength="47.57" lengthAdjust="spacingAndGlyphs">区间低点</tspan><tspan x="641.08" textLength="3.43" lengthAdjust="spacingAndGlyphs" stroke="none">:</tspan> <tspan x="647.88" textLength="31.05" lengthAdjust="spacingAndGlyphs">47.50</tspan></text>
</svg>
</body>
</html>
